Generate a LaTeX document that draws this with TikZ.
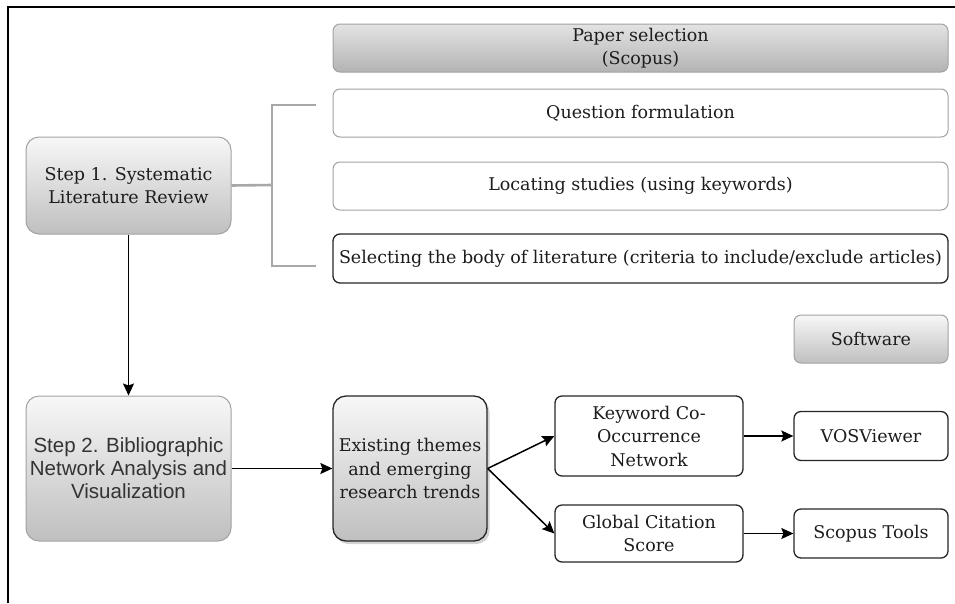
\documentclass[tikz,border=0pt]{standalone}
\usepackage{fontspec}
\setmainfont{DejaVu Serif}
\newfontfamily\stepsans{Liberation Sans}
\usetikzlibrary{arrows.meta,shadows}
\definecolor{ink}{HTML}{1C1C1C}
\definecolor{edgegray}{HTML}{A2A2A2}
\definecolor{bracketgray}{HTML}{A8A8A8}
\tikzset{
  box/.style={draw=edgegray, line width=1pt, rounded corners=7pt, fill=white,
    text=ink, font=\fontsize{17.5}{23.5}\selectfont, align=center, inner sep=1pt},
  darkbox/.style={box, draw=black!85, line width=1.3pt},
  shadedbox/.style={box, top color=white!97!black, bottom color=black!25},
  headbox/.style={box, top color=black!11, bottom color=black!30},
  bigbox/.style={rounded corners=13pt},
  flow/.style={-{Stealth[length=12pt,width=11pt,inset=2pt]}, line width=1.5pt, black},
  bracket/.style={draw=bracketgray, line width=2.6pt}
}
\begin{document}
\begin{tikzpicture}[x=1pt, y=-1pt]
\useasboundingbox (0,0) rectangle (955,603);

% outer frame (top and left edges)
\draw[line width=1.5pt] (8,603) -- (8,7) -- (955,7);

% systematic literature review column
\node[headbox, minimum width=615pt, minimum height=48pt] (paper) at (640.5,48) {Paper selection\\(Scopus)};
\node[box, minimum width=615pt, minimum height=48pt] (question) at (640.5,113) {Question formulation};
\node[box, minimum width=615pt, minimum height=48pt] (locating) at (640.5,186) {Locating studies (using keywords)};
\node[darkbox, minimum width=615pt, minimum height=49pt] (selecting) at (640.5,258.5) {Selecting the body of literature (criteria to include/exclude articles)};

\node[shadedbox, bigbox, minimum width=205pt, minimum height=97pt] (step1) at (128.5,185.5) {Step 1. Systematic\\Literature Review};

% bracket grouping the three review tasks
\coordinate (spine) at (272,185);
\coordinate (tiptop) at (316,105);
\coordinate (tipbot) at (316,266);
\draw[bracket] (step1.east) -- (spine);
\draw[bracket] (tiptop) -- (spine |- tiptop) -- (spine |- tipbot) -- (tipbot);

% bibliographic network analysis row
\node[shadedbox, bigbox, minimum width=205pt, minimum height=145pt,
  font=\stepsans\fontsize{20.5}{23}\selectfont, text=black!80] (step2) at (128.5,468.5)
  {Step 2. Bibliographic\\Network Analysis and\\Visualization};
\node[shadedbox, bigbox, draw=black!85, line width=1.3pt, minimum width=154pt, minimum height=145pt,
  drop shadow={shadow xshift=2.5pt, shadow yshift=-3pt, opacity=0.35}] (exist) at (410,468.5)
  {Existing themes\\and emerging\\research trends};

\node[darkbox, minimum width=188pt, minimum height=80pt] (keyword) at (649,436) {Keyword Co-\\Occurrence\\Network};
\node[darkbox, minimum width=188pt, minimum height=57pt] (global) at (649,533.5) {Global Citation\\Score};

\node[shadedbox, minimum width=154pt, minimum height=48pt] (software) at (871,339) {Software};
\node[darkbox, minimum width=154pt, minimum height=49pt] (vos) at (871,436) {VOSViewer};
\node[darkbox, minimum width=154pt, minimum height=49pt] (scopus) at (871,533.5) {Scopus Tools};

% connectors
\draw[flow] (step1.south) -- (step2.north);
\draw[flow] (step2.east) -- (exist.west);
\draw[flow] (exist.east) -- (keyword.west);
\draw[flow] (exist.east) -- (global.west);
\draw[flow] (keyword.east) -- (vos.west);
\draw[flow] (global.east) -- (scopus.west);
\end{tikzpicture}
\end{document}
